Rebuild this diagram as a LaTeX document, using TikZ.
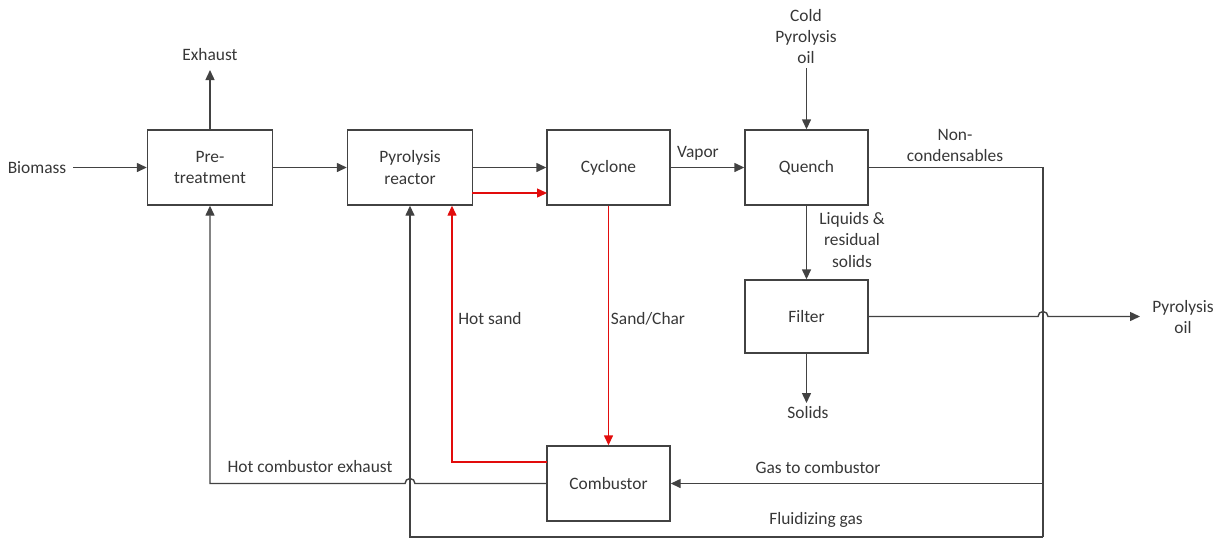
\documentclass[tikz,border=0pt]{standalone}
\usepackage{fontspec}
\setmainfont{Carlito}
\usetikzlibrary{arrows.meta}
\definecolor{ln}{RGB}{66,66,66}
\definecolor{tx}{RGB}{55,55,55}
\definecolor{rd}{RGB}{226,12,12}
\begin{document}
\begin{tikzpicture}[x=1pt,y=-1pt,
  font=\fontsize{17.4}{21.2}\selectfont,
  box/.style={draw=ln, line width=1.4pt, minimum width=123pt, minimum height=75pt,
    inner sep=0pt, align=center, text=tx},
  lbl/.style={inner sep=0pt, align=center, text=tx},
  arr/.style={draw=ln, line width=1.4pt, -{Triangle[length=10pt,width=9pt]}},
  plain/.style={draw=ln, line width=1.4pt},
  rarr/.style={draw=rd, line width=1.4pt, -{Triangle[length=10pt,width=9pt]}, color=rd}]
\useasboundingbox (0,0) rectangle (1230,539);
% boxes
\node[box, minimum width=125pt] (pre) at (210,167.5) {Pre-\\treatment};
\node[box, minimum width=125pt] (reac) at (410,167.5) {Pyrolysis\\reactor};
\node[box] (cyc) at (608.5,167.5) {Cyclone};
\node[box] (que) at (806.5,167.5) {Quench};
\node[box, minimum height=73pt] (fil) at (806.5,316.5) {Filter};
\node[box] (comb) at (608.5,483.5) {Combustor};
% labels
\node[lbl] (bio) at (37,168) {Biomass};
\node[lbl] (exh) at (210,55) {Exhaust};
\node[lbl] (cold) at (806,36.5) {Cold\\Pyrolysis\\oil};
\node[lbl] (vap) at (698,153) {Vapor};
\node[lbl] (nonc) at (955,145.5) {Non-\\condensables};
\node[lbl] (liq) at (852,240) {Liquids \&\\residual\\solids};
\node[lbl] (sol) at (808,413) {Solids};
\node[lbl] (pyoil) at (1183,317) {Pyrolysis\\oil};
\node[lbl] (hsand) at (490,319) {Hot sand};
\node[lbl] (schar) at (648,319) {Sand/Char};
\node[lbl] (hce) at (310,467) {Hot combustor exhaust};
\node[lbl] (gtc) at (818,468) {Gas to combustor};
\node[lbl] (flg) at (816,520) {Fluidizing gas};
% free ends and bends
\coordinate (bioS) at (73,167.5);
\coordinate (exhE) at (210,70);
\coordinate (coldS) at (806.5,68);
\coordinate (solE) at (806.5,403);
\coordinate (oilE) at (1140,316.5);
\coordinate (nc) at (1043,167.5);
\coordinate (jg) at (1043,483.5);
\coordinate (jf) at (1043,537);
\coordinate (fb) at (410,537);
\coordinate (hopA) at (415,483.5);
\coordinate (hopB) at (1038,316.5);
\coordinate (hx) at (210,483.5);
\coordinate (rA) at (472,193);
\coordinate (rB) at (547,193);
\coordinate (hsA) at (547,462);
\coordinate (hsB) at (452,462);
% black connectors
\draw[arr] (bioS) -- (pre.west);
\draw[arr] (pre.north) -- (exhE);
\draw[arr] (pre.east) -- (reac.west);
\draw[arr] (reac.east) -- (cyc.west);
\draw[arr] (cyc.east) -- (que.west);
\draw[arr] (coldS) -- (que.north);
\draw[arr] (que.south) -- (fil.north);
\draw[arr] (fil.south) -- (solE);
\draw[plain] (que.east) -- (nc) -- (jf);
\draw[arr] (fil.east) -- (hopB) arc[start angle=180,end angle=0,radius=5pt] -- (oilE);
\draw[arr] (jg) -- (comb.east);
\draw[arr] (jf) -- (fb) -- (reac.south);
\draw[arr] (comb.west) -- (hopA) arc[start angle=0,end angle=180,radius=5pt] -- (hx) -- (pre.south);
% red connectors
\draw[rarr] (rA) -- (rB);
\draw[rarr] (cyc.south) -- (comb.north);
\draw[rarr] (hsA) -- (hsB) -- (hsB |- reac.south);
\end{tikzpicture}
\end{document}
